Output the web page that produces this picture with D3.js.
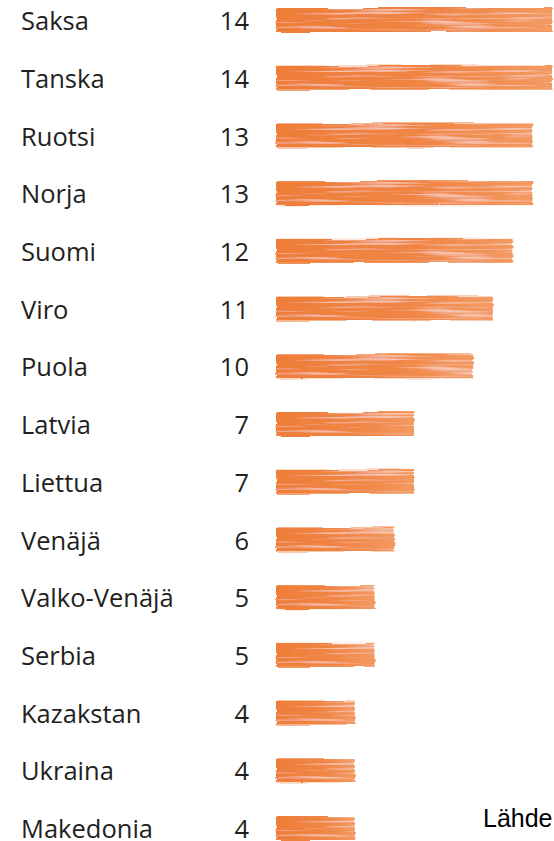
<!DOCTYPE html>
<html>
<head>
<meta charset="utf-8">
<style>
  body { margin: 0; background: #fff; overflow: hidden; }
  svg text { font-family: "Open Sans", "Noto Sans", sans-serif; fill: #231f20; }
</style>
</head>
<body>
<svg width="554" height="841"></svg>
<script src="https://d3js.org/d3.v7.min.js"></script>
<script>
var countries = ["Saksa", "Tanska", "Ruotsi", "Norja", "Suomi", "Viro", "Puola",
                 "Latvia", "Liettua", "Venäjä", "Valko-Venäjä", "Serbia",
                 "Kazakstan", "Ukraina", "Makedonia"];
var values = [14, 14, 13, 13, 12, 11, 10, 7, 7, 6, 5, 5, 4, 4, 4];
var sourceText = "Lähde";

var svg = d3.select("svg");
var defs = svg.append("defs");

// brush stroke look: ragged edge + light streaks
var f = defs.append("filter").attr("id", "brush")
    .attr("x", "-5%").attr("y", "-40%").attr("width", "110%").attr("height", "180%");
f.append("feTurbulence").attr("type", "fractalNoise")
    .attr("baseFrequency", "0.012 0.35").attr("numOctaves", 2).attr("seed", 5)
    .attr("result", "noise");
f.append("feDisplacementMap").attr("in", "SourceGraphic").attr("in2", "noise")
    .attr("scale", 4).attr("xChannelSelector", "R").attr("yChannelSelector", "G")
    .attr("result", "disp");
f.append("feColorMatrix").attr("in", "noise").attr("type", "matrix")
    .attr("values", "0 0 0 0 1  0 0 0 0 1  0 0 0 0 1  1.6 0 0 0 -0.85")
    .attr("result", "streak");
f.append("feComposite").attr("in", "streak").attr("in2", "disp")
    .attr("operator", "in").attr("result", "streakIn");
var m = f.append("feMerge");
m.append("feMergeNode").attr("in", "disp");
m.append("feMergeNode").attr("in", "streakIn");

var grad = defs.append("linearGradient").attr("id", "barFill")
    .attr("x1", "0").attr("x2", "1").attr("y1", "0").attr("y2", "0");
grad.append("stop").attr("offset", "0").attr("stop-color", "#ee7d38");
grad.append("stop").attr("offset", "0.6").attr("stop-color", "#f08645");
grad.append("stop").attr("offset", "1").attr("stop-color", "#f39a62");

var y = d3.scalePoint()
    .domain(countries)
    .range([21, 829]);

var x = d3.scaleLinear().domain([0, 14]).range([276, 552]);
var bh = 24;

var row = svg.selectAll("g.row")
  .data(countries)
  .enter().append("g")
    .attr("class", "row")
    .attr("transform", function(d) { return "translate(0," + y(d) + ")"; });

row.append("text")
    .attr("x", 21)
    .attr("y", 0)
    .attr("dy", "0.36em")
    .attr("font-size", 25.5)
    .text(function(d) { return d; });

row.append("text")
    .attr("x", 249)
    .attr("y", 0)
    .attr("dy", "0.36em")
    .attr("text-anchor", "end")
    .attr("font-size", 25.5)
    .text(function(d, i) { return values[i]; });

row.append("rect")
    .attr("x", x(0))
    .attr("y", -bh / 2 - 1)
    .attr("width", function(d, i) { return x(values[i]) - x(0); })
    .attr("height", bh)
    .attr("fill", "url(#barFill)")
    .attr("filter", "url(#brush)");

svg.append("text")
    .attr("x", 483)
    .attr("y", 827)
    .attr("font-size", 25)
    .style("font-family", "'Liberation Sans', Arial, sans-serif")
    .style("fill", "#000")
    .text(sourceText);
</script>
</body>
</html>
